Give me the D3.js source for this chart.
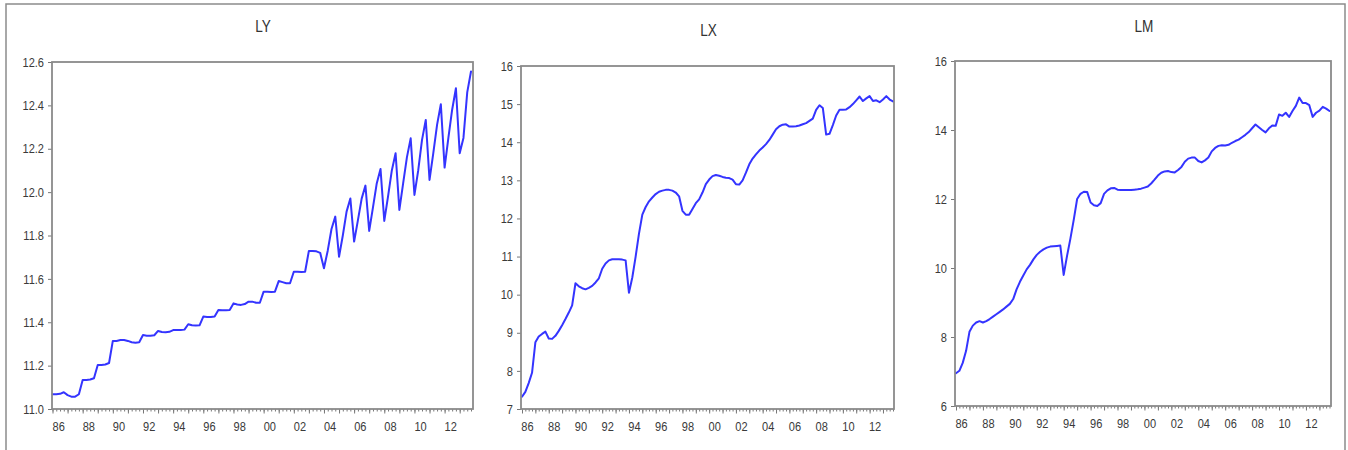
<!DOCTYPE html>
<html><head><meta charset="utf-8">
<script src="https://cdn.jsdelivr.net/npm/d3@7/dist/d3.min.js"></script>
<style>body{margin:0;background:#fff} svg{display:block}</style>
</head><body><svg id="c" width="1348" height="450"></svg>
<script>
const years = [1986,1987,1988,1989,1990,1991,1992,1993,1994,1995,1996,1997,1998,1999,
               2000,2001,2002,2003,2004,2005,2006,2007,2008,2009,2010,2011,2012,2013];
const quarters = ["Q1","Q2","Q3","Q4"];
const periods = years.flatMap(y => quarters.map(q => y + q));

const xTickLabels = ["86","88","90","92","94","96","98","00","02","04","06","08","10","12"];
const lyTicks = [11.0,11.2,11.4,11.6,11.8,12.0,12.2,12.4,12.6];
const lxTicks = [7,8,9,10,11,12,13,14,15,16];
const lmTicks = [6,8,10,12,14,16];

const lyValues = [
 11.068,11.068,11.070,11.077, 11.064,11.057,11.057,11.068, 11.134,11.134,11.136,11.142,
 11.203,11.203,11.205,11.212, 11.314,11.314,11.318,11.318, 11.314,11.308,11.306,11.308,
 11.341,11.338,11.338,11.340, 11.360,11.355,11.354,11.356, 11.364,11.364,11.364,11.366,
 11.391,11.386,11.385,11.386, 11.426,11.424,11.424,11.426, 11.457,11.455,11.455,11.457,
 11.487,11.482,11.480,11.484, 11.495,11.495,11.490,11.490, 11.541,11.541,11.540,11.541,
 11.590,11.585,11.580,11.580, 11.633,11.633,11.632,11.633, 11.729,11.729,11.727,11.720,
 11.649,11.730,11.830,11.887, 11.702,11.800,11.910,11.971, 11.772,11.870,11.970,12.030,
 11.821,11.930,12.040,12.107, 11.867,11.980,12.100,12.179, 11.918,12.040,12.160,12.248,
 11.987,12.100,12.240,12.333, 12.056,12.180,12.310,12.405, 12.113,12.250,12.380,12.479,
 12.179,12.250,12.460,12.556
];
const lxValues = [
 7.32,7.45,7.68,7.95, 8.75,8.90,8.97,9.03, 8.85,8.84,8.92,9.05,
 9.20,9.36,9.53,9.72, 10.30,10.22,10.17,10.14, 10.18,10.23,10.32,10.43,
 10.68,10.82,10.90,10.93, 10.93,10.93,10.92,10.90, 10.05,10.45,11.00,11.60,
 12.10,12.30,12.45,12.55, 12.64,12.70,12.73,12.75, 12.75,12.73,12.68,12.58,
 12.20,12.10,12.10,12.25, 12.40,12.50,12.68,12.90, 13.02,13.11,13.14,13.12,
 13.09,13.07,13.06,13.02, 12.90,12.89,13.00,13.20, 13.42,13.57,13.68,13.78,
 13.86,13.95,14.06,14.20, 14.34,14.42,14.46,14.47, 14.41,14.41,14.42,14.44,
 14.47,14.50,14.56,14.62, 14.85,14.97,14.90,14.20, 14.22,14.45,14.70,14.85,
 14.85,14.86,14.92,15.00, 15.10,15.20,15.08,15.15, 15.21,15.08,15.10,15.05,
 15.12,15.21,15.12,15.07
];
const lmValues = [
 6.95,7.02,7.25,7.60, 8.15,8.33,8.42,8.46, 8.42,8.46,8.52,8.59,
 8.66,8.73,8.80,8.88, 8.96,9.10,9.38,9.60, 9.78,9.96,10.09,10.25,
 10.38,10.47,10.54,10.59, 10.62,10.63,10.64,10.65, 9.80,10.35,10.85,11.40,
 12.00,12.15,12.21,12.20, 11.90,11.82,11.80,11.88, 12.15,12.25,12.31,12.32,
 12.27,12.26,12.26,12.26, 12.26,12.27,12.28,12.30, 12.33,12.36,12.45,12.56,
 12.68,12.76,12.80,12.81, 12.78,12.77,12.84,12.93, 13.08,13.17,13.20,13.20,
 13.10,13.06,13.12,13.20, 13.38,13.48,13.54,13.56, 13.55,13.57,13.63,13.68,
 13.72,13.79,13.86,13.94, 14.05,14.16,14.08,14.00, 13.93,14.05,14.13,14.12,
 14.45,14.41,14.50,14.38, 14.55,14.70,14.94,14.78, 14.78,14.72,14.38,14.50,
 14.56,14.67,14.62,14.55
];

const panels = [
  {title:"LY", values:lyValues, ticks:lyTicks, fmt:".1f", domain:[11.0,12.6],
   box:[52,62,473,409], xr:[52.5,471], tpos:[263,32]},
  {title:"LX", values:lxValues, ticks:lxTicks, fmt:"d", domain:[7,16],
   box:[521,66,894,409], xr:[522,893], tpos:[708.5,36]},
  {title:"LM", values:lmValues, ticks:lmTicks, fmt:"d", domain:[6,16],
   box:[955,61,1331,406], xr:[956,1329.5], tpos:[1144,32]}
];

const svg = d3.select("#c");
const SX = 0.85;
const FONT = "'Liberation Sans', Arial, sans-serif";

// outer frame
svg.append("path").attr("d","M6,450V4H1345V450")
  .attr("fill","none").attr("stroke","#8c8c8c").attr("stroke-width",1.5);

function styleAxis(g, size){
  g.select(".domain").remove();
  g.selectAll(".tick line").attr("stroke","#777").attr("stroke-width",1);
  g.selectAll(".tick text")
    .attr("font-family",FONT).attr("font-size",size).attr("fill","#3a3a3a")
    .each(function(){
      const t = d3.select(this);
      const x = +(t.attr("x")||0);
      t.attr("x", x/SX).attr("transform",`scale(${SX},1)`);
    });
}

panels.forEach(p => {
  const [x0,y0,x1,y1] = p.box;
  const g = svg.append("g");
  const x = d3.scaleLinear().domain([0, periods.length-1]).range(p.xr);
  const y = d3.scaleLinear().domain(p.domain).range([y1,y0]);

  g.append("rect").attr("x",x0).attr("y",y0).attr("width",x1-x0).attr("height",y1-y0)
    .attr("fill","#fff");

  // x axis: quarterly minor ticks
  const allIdx = periods.map((_,i)=>i);
  const minor = g.append("g").attr("transform",`translate(0,${y1})`)
    .call(d3.axisBottom(x).tickValues(allIdx).tickSize(2.5).tickSizeOuter(0).tickFormat(""));
  styleAxis(minor, 13);
  const yearIdx = periods.map((d,i)=>d.endsWith("Q1")?i:-1).filter(i=>i>=0);
  const major = g.append("g").attr("transform",`translate(0,${y1})`)
    .call(d3.axisBottom(x).tickValues(yearIdx).tickSize(4.5).tickSizeOuter(0).tickFormat(""));
  styleAxis(major, 13);
  const labelIdx = xTickLabels.map(l => {
    const yr = (+l >= 50 ? 1900 : 2000) + (+l);
    return periods.indexOf(yr + "Q1") + 1.5;
  });
  const lab = g.append("g").attr("transform",`translate(0,${y1})`)
    .call(d3.axisBottom(x).tickValues(labelIdx).tickSize(0).tickPadding(13).tickSizeOuter(0)
      .tickFormat((d,i)=>xTickLabels[i]));
  styleAxis(lab, 13);

  // y axis
  const ya = g.append("g").attr("transform",`translate(${x0},0)`)
    .call(d3.axisLeft(y).tickValues(p.ticks).tickSize(4).tickPadding(4).tickSizeOuter(0)
      .tickFormat(d3.format(p.fmt)));
  styleAxis(ya, 13);

  // series line
  g.append("path").datum(p.values)
    .attr("fill","none").attr("stroke","#3434ff").attr("stroke-width",2)
    .attr("stroke-linejoin","round").attr("stroke-linecap","round")
    .attr("d", d3.line().x((d,i)=>x(i)).y(d=>y(d)));

  // frame
  g.append("rect").attr("x",x0).attr("y",y0).attr("width",x1-x0).attr("height",y1-y0)
    .attr("fill","none").attr("stroke","#8a8a8a").attr("stroke-width",1.8);

  // title
  g.append("text").attr("transform",`translate(${p.tpos[0]},${p.tpos[1]}) scale(${SX},1)`)
    .attr("text-anchor","middle").attr("font-family",FONT).attr("font-size",16)
    .attr("fill","#333").text(p.title);
});
</script>
</body></html>
